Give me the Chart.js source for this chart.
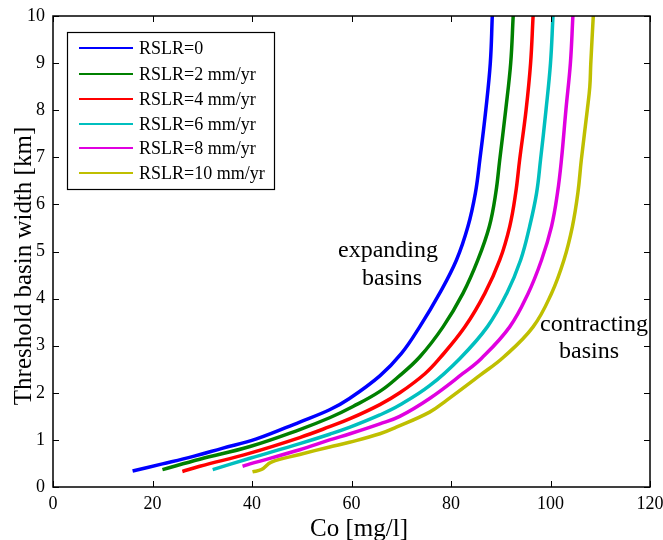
<!DOCTYPE html>
<html lang="en">
  <head>
    <meta charset="UTF-8">
    <title>Threshold basin width vs Co</title>
    <script src="https://cdn.jsdelivr.net/npm/chart.js"></script>
    <style>
      body { margin: 0; background: #fff; }
    </style>
  </head>
  <body>
    <canvas id="basinChart" width="663" height="540"></canvas>
    <script>
      // series names + colours (matlab-like order)
      const seriesLabels = ['RSLR=0', 'RSLR=2 mm/yr', 'RSLR=4 mm/yr', 'RSLR=6 mm/yr', 'RSLR=8 mm/yr', 'RSLR=10 mm/yr'];
      const seriesColors = ['#0000ff', '#008000', '#ff0000', '#00bfbf', '#e000e0', '#bfbf00'];

      // Co [mg/l] and threshold width [km]
      const co0 = [16.0, 22.0, 28.2, 34.0, 40.9, 49.6, 55.6, 59.6, 65.7, 70.0, 73.7, 77.7, 81.1, 83.4, 84.9, 85.8, 87.0, 87.9, 88.3];
      const w0  = [0.34, 0.49, 0.65, 0.82, 1.02, 1.38, 1.64, 1.88, 2.36, 2.83, 3.40, 4.11, 4.82, 5.53, 6.24, 6.95, 8.01, 9.0, 10];

      const co2 = [22.0, 29.5, 39.6, 49.6, 55.6, 60.3, 65.7, 69.3, 73.7, 78.4, 82.4, 85.4, 87.7, 89.0, 89.8, 91.0, 92.0, 92.5];
      const w2  = [0.37, 0.59, 0.86, 1.22, 1.47, 1.71, 2.03, 2.33, 2.76, 3.40, 4.11, 4.82, 5.53, 6.24, 6.95, 8.01, 9.0, 10];

      const co4 = [26.0, 29.5, 39.6, 49.6, 55.6, 59.7, 65.7, 69.7, 74.7, 77.7, 82.8, 86.8, 89.8, 91.8, 93.0, 93.8, 95.1, 96.0, 96.5];
      const w4  = [0.33, 0.44, 0.72, 1.05, 1.28, 1.45, 1.75, 2.00, 2.40, 2.73, 3.40, 4.11, 4.82, 5.53, 6.24, 6.95, 8.01, 9.0, 10];

      const co6 = [32.1, 39.6, 49.6, 55.6, 59.7, 65.7, 69.7, 75.7, 81.8, 87.3, 91.2, 94.0, 95.8, 97.2, 98.0, 99.1, 100.0, 100.5];
      const w6  = [0.37, 0.61, 0.92, 1.12, 1.27, 1.53, 1.74, 2.15, 2.73, 3.40, 4.11, 4.82, 5.53, 6.24, 6.95, 8.01, 9.0, 10];

      const co8 = [38.1, 39.6, 49.6, 55.6, 59.7, 65.7, 69.7, 75.7, 82.4, 86.1, 91.8, 95.5, 98.2, 100.2, 101.4, 102.2, 103.1, 104.0, 104.5];
      const w8  = [0.44, 0.49, 0.79, 1.00, 1.13, 1.34, 1.50, 1.88, 2.41, 2.73, 3.40, 4.11, 4.82, 5.53, 6.24, 6.95, 8.01, 9.0, 10];

      const co10 = [40.1, 41.9, 43.9, 49.6, 55.6, 59.6, 65.7, 69.0, 75.7, 79.1, 85.8, 90.6, 96.5, 100.2, 102.7, 104.4, 105.5, 106.2, 107.4, 107.9, 108.1, 108.6];
      const w10  = [0.32, 0.37, 0.53, 0.69, 0.85, 0.95, 1.13, 1.27, 1.59, 1.84, 2.37, 2.76, 3.40, 4.11, 4.82, 5.53, 6.24, 6.95, 8.01, 8.5, 9.0, 10];

      const coSeries = [co0, co2, co4, co6, co8, co10];
      const widthSeries = [w0, w2, w4, w6, w8, w10];

      const xTicks = [0, 20, 40, 60, 80, 100, 120];
      const yTicks = [0, 1, 2, 3, 4, 5, 6, 7, 8, 9, 10];

      const serif = "'Liberation Serif', 'Times New Roman', serif";

      const datasets = seriesLabels.map((label, i) => ({
        label: label,
        data: coSeries[i].map((x, j) => ({ x: x, y: widthSeries[i][j] })),
        borderColor: seriesColors[i],
        backgroundColor: seriesColors[i],
        borderWidth: 3.5,
        showLine: true,
        pointRadius: 0,
        tension: 0.4
      }));

      // frame + inward ticks on all four sides, like matlab
      const framePlugin = {
        id: 'frame',
        afterDraw(chart) {
          const { ctx, chartArea: a, scales } = chart;
          ctx.save();
          ctx.strokeStyle = '#000';
          ctx.lineWidth = 1;
          xTicks.forEach(v => {
            const px = Math.round(scales.x.getPixelForValue(v)) + 0.5;
            ctx.beginPath();
            ctx.moveTo(px, a.bottom); ctx.lineTo(px, a.bottom - 6);
            ctx.moveTo(px, a.top); ctx.lineTo(px, a.top + 6);
            ctx.stroke();
          });
          yTicks.forEach(v => {
            const py = Math.round(scales.y.getPixelForValue(v)) + 0.5;
            ctx.beginPath();
            ctx.moveTo(a.left, py); ctx.lineTo(a.left + 6, py);
            ctx.moveTo(a.right, py); ctx.lineTo(a.right - 6, py);
            ctx.stroke();
          });
          ctx.lineWidth = 1.5;
          ctx.strokeRect(a.left, a.top, a.right - a.left, a.bottom - a.top);

          // axis titles
          ctx.fillStyle = '#000';
          ctx.font = '25px ' + serif;
          ctx.textAlign = 'center';
          ctx.textBaseline = 'alphabetic';
          ctx.fillText('Co [mg/l]', 359, 536);
          ctx.save();
          ctx.translate(31, 266);
          ctx.rotate(-Math.PI / 2);
          ctx.fillText('Threshold basin width [km]', 0, 0);
          ctx.restore();

          // annotations
          ctx.font = '24px ' + serif;
          ctx.fillText('expanding', 388, 257);
          ctx.fillText('basins', 392, 285);
          ctx.fillText('contracting', 594, 331);
          ctx.fillText('basins', 589, 358);

          // legend box
          ctx.fillStyle = '#fff';
          ctx.fillRect(67, 32, 207, 157);
          ctx.lineWidth = 1.2;
          ctx.strokeRect(67.5, 32.5, 207, 157);
          const rows = [48, 74, 99, 124, 148, 173];
          ctx.font = '18px ' + serif;
          ctx.textAlign = 'left';
          ctx.textBaseline = 'middle';
          chart.data.datasets.forEach((ds, i) => {
            ctx.strokeStyle = ds.borderColor;
            ctx.lineWidth = 2;
            ctx.beginPath();
            ctx.moveTo(79, rows[i]); ctx.lineTo(133, rows[i]);
            ctx.stroke();
            ctx.fillStyle = '#000';
            ctx.fillText(ds.label, 139, rows[i] + 1);
          });
          ctx.restore();
        }
      };

      new Chart(document.getElementById('basinChart'), {
        type: 'scatter',
        data: { datasets },
        options: {
          responsive: false,
          animation: false,
          devicePixelRatio: 1,
          layout: { padding: { top: 16, right: 13, left: 0, bottom: 0 } },
          plugins: {
            legend: { display: false },
            tooltip: { enabled: false }
          },
          scales: {
            x: {
              type: 'linear',
              min: 0,
              max: 120,
              afterBuildTicks: s => { s.ticks = xTicks.map(v => ({ value: v })); },
              afterFit: s => { s.height = 53; s.paddingLeft = 0; s.paddingRight = 0; },
              grid: { display: false, drawTicks: false },
              border: { display: false },
              ticks: { color: '#000', font: { family: serif, size: 18 }, padding: 6, maxRotation: 0 }
            },
            y: {
              type: 'linear',
              min: 0,
              max: 10,
              afterBuildTicks: s => { s.ticks = yTicks.map(v => ({ value: v })); },
              afterFit: s => { s.width = 53; s.paddingTop = 0; s.paddingBottom = 0; },
              grid: { display: false, drawTicks: false },
              border: { display: false },
              ticks: { color: '#000', font: { family: serif, size: 18 }, padding: 8 }
            }
          }
        },
        plugins: [framePlugin]
      });
    </script>
  </body>
</html>
